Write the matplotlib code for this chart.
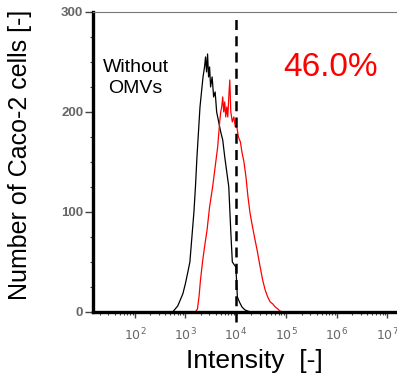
import matplotlib.pyplot as plt
import numpy as np

plt.rcParams['font.family'] = ['Liberation Sans', 'DejaVu Sans']

# log10 of intensity and cell counts
BLACK_LOG = [2.75, 2.80, 2.85, 2.90, 2.95, 3.00, 3.05, 3.09, 3.13, 3.17, 3.20, 3.23,
             3.26, 3.29, 3.32, 3.35, 3.38, 3.40, 3.42, 3.44, 3.46, 3.48, 3.50, 3.53,
             3.56, 3.59, 3.62, 3.66, 3.70, 3.74, 3.78, 3.82, 3.86, 3.90, 3.93, 3.97,
             4.00, 4.03, 4.07, 4.12, 4.18, 4.28]
BLACK_COUNT = [0, 3, 6, 12, 18, 28, 40, 50, 75, 100, 125, 155,
               180, 205, 220, 235, 245, 255, 240, 258, 235, 245, 225, 235,
               215, 220, 200, 190, 180, 172, 155, 140, 125, 80, 50, 47,
               45, 15, 10, 5, 2, 0]

RED_LOG = [3.20, 3.24, 3.27, 3.30, 3.34, 3.38, 3.43, 3.48, 3.54, 3.59, 3.64, 3.68,
           3.70, 3.72, 3.74, 3.76, 3.78, 3.80, 3.82, 3.84, 3.86, 3.88, 3.90, 3.93,
           3.96, 3.99, 4.02, 4.05, 4.09, 4.12, 4.16, 4.20, 4.24, 4.28, 4.33, 4.38,
           4.42, 4.47, 4.53, 4.58, 4.63, 4.68, 4.73, 4.78, 4.83, 4.87, 4.92]
RED_COUNT = [0, 3, 15, 32, 50, 65, 82, 105, 125, 145, 165, 190,
             200, 205, 215, 200, 210, 195, 205, 195, 215, 232, 200, 190,
             195, 185, 185, 175, 170, 160, 150, 135, 115, 99, 85, 72,
             62, 48, 32, 22, 15, 10, 8, 5, 3, 1, 0]

GATE = 1e4
XTICKS = [1e2, 1e3, 1e4, 1e5, 1e6, 1e7]
XTICK_LABELS = ['$10^2$', '$10^3$', '$10^4$', '$10^5$', '$10^6$', '$10^7$']
YTICKS = [0, 100, 200, 300]

fig = plt.figure(figsize=(3.97, 3.74), dpi=100)
ax = fig.add_axes([0.234, 0.166, 0.766, 0.802])

ax.plot(10 ** np.array(BLACK_LOG), BLACK_COUNT, color='black', lw=0.9)
ax.plot(10 ** np.array(RED_LOG), RED_COUNT, color='red', lw=0.9)
ax.axvline(GATE, ymin=-0.035, ymax=0.99, color='black', lw=1.8,
           linestyle=(0, (4, 2.5)), clip_on=False)

ax.set_xscale('log')
ax.set_xlim(10 ** 1.17, 10 ** 7.19)
ax.set_ylim(0, 300)
ax.set_xticks(XTICKS)
ax.set_xticklabels(XTICK_LABELS, fontsize=9, color='#666666')
ax.set_yticks(YTICKS)
ax.set_yticklabels([str(v) for v in YTICKS], fontsize=9.5, color='#666666', fontweight='bold')
ax.set_yticks(np.arange(25, 300, 25), minor=True)

ax.tick_params(axis='y', which='major', direction='out', length=6, width=1,
               color='#444444', pad=1)
ax.tick_params(axis='x', which='major', direction='out', length=4, width=1,
               color='#444444', pad=7)
ax.tick_params(axis='both', which='minor', direction='out', length=2.5, width=0.8,
               color='#444444')

for s in ['left', 'bottom']:
    ax.spines[s].set_linewidth(2.4)
ax.spines['top'].set_linewidth(0.8)
ax.spines['top'].set_color('#777777')
ax.spines['right'].set_visible(False)

ax.set_xlabel('Intensity  [-]', fontsize=19)
ax.xaxis.set_label_coords(0.53, -0.125)
ax.set_ylabel('Number of Caco-2 cells [-]', fontsize=18)
ax.yaxis.set_label_coords(-0.2, 0.523)

ax.text(0.14, 0.78, 'Without\nOMVs', transform=ax.transAxes, ha='center',
        va='center', fontsize=14, linespacing=1.3)
ax.text(0.78, 0.815, '46.0%', transform=ax.transAxes, ha='center', va='center',
        fontsize=24, color='red')

fig.savefig('out.png', dpi=100)
